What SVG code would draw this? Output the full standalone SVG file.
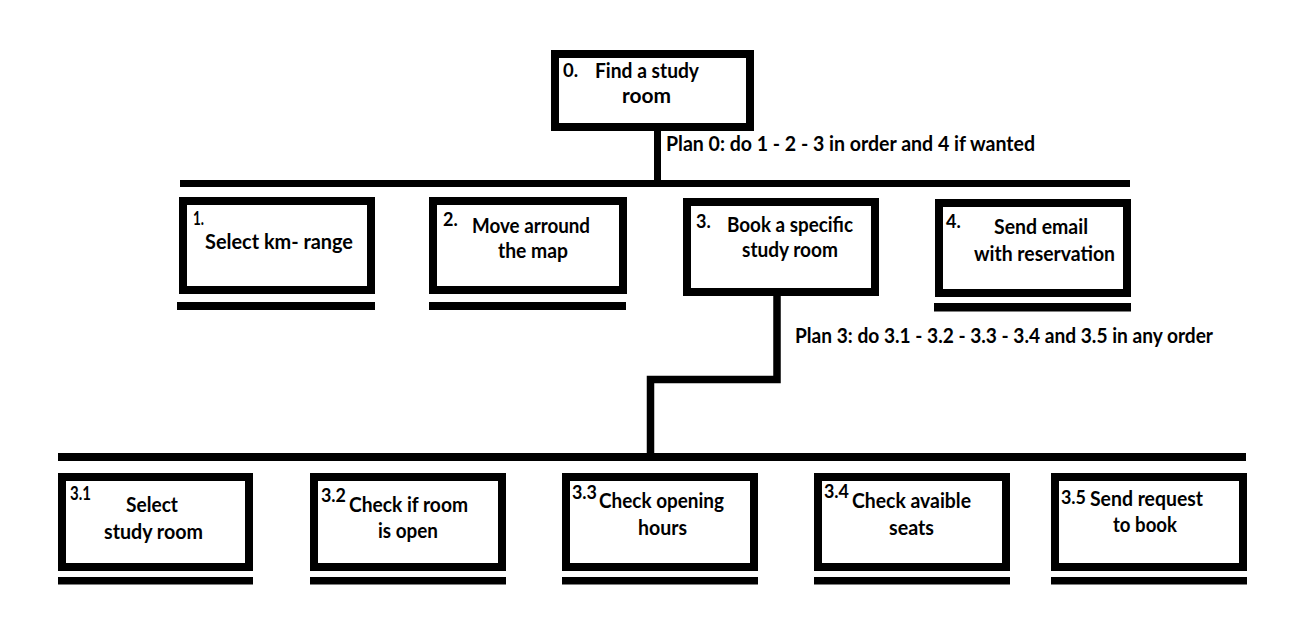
<svg xmlns="http://www.w3.org/2000/svg" width="1291" height="619" viewBox="0 0 1291 619">
<style>
.box{fill:#fff;stroke:#000;stroke-width:8}
.bar{fill:#000}
.conn{fill:none;stroke:#000;stroke-width:7.5;stroke-linejoin:miter}
.t{font-family:Lato,"Liberation Sans",sans-serif;font-weight:bold;font-size:20.5px;fill:#000}
.n{font-family:Lato,"Liberation Sans",sans-serif;font-weight:bold;font-size:18px;fill:#000}
.n2{font-family:Lato,"Liberation Sans",sans-serif;font-weight:bold;font-size:18.5px;fill:#000}
</style>
<rect width="1291" height="619" fill="#fff"/>
<g id="connectors">
<rect class="bar" x="654" y="131" width="7" height="49"/>
<rect class="bar" x="180" y="180" width="950" height="7"/>
<path class="conn" d="M777 296 V379.5 H650.5 V453"/>
<rect class="bar" x="58" y="453" width="1188" height="8"/>
<text class="t" x="666" y="151" textLength="369" lengthAdjust="spacingAndGlyphs">Plan 0: do 1 - 2 - 3 in order and 4 if wanted</text>
<text class="t" x="795" y="343" textLength="418" lengthAdjust="spacingAndGlyphs">Plan 3: do 3.1  - 3.2 - 3.3 - 3.4 and 3.5 in any order</text>
</g>
<g id="node0">
<rect class="box" x="555" y="54" width="195" height="73"/>
<text class="n2" x="563" y="77">0.</text>
<text class="t" x="595" y="78" textLength="104" lengthAdjust="spacingAndGlyphs">Find a study</text>
<text class="t" x="622" y="103" textLength="49" lengthAdjust="spacingAndGlyphs">room</text>
</g>
<g id="node1">
<rect class="box" x="183" y="201" width="188" height="89"/>
<rect class="bar" x="177" y="302" width="198" height="8"/>
<text class="n" x="193" y="225" textLength="11" lengthAdjust="spacingAndGlyphs">1.</text>
<text class="t" x="205" y="249" textLength="148" lengthAdjust="spacingAndGlyphs">Select km- range</text>
</g>
<g id="node2">
<rect class="box" x="433" y="201" width="190" height="89"/>
<rect class="bar" x="429" y="302" width="197" height="8"/>
<text class="n" x="443" y="226">2.</text>
<text class="t" x="472" y="233" textLength="118" lengthAdjust="spacingAndGlyphs">Move arround</text>
<text class="t" x="498" y="258" textLength="70" lengthAdjust="spacingAndGlyphs">the map</text>
</g>
<g id="node3">
<rect class="box" x="687" y="202" width="188" height="90"/>
<text class="n" x="696" y="228">3.</text>
<text class="t" x="727" y="232" textLength="126" lengthAdjust="spacingAndGlyphs">Book a specific</text>
<text class="t" x="742" y="257" textLength="96" lengthAdjust="spacingAndGlyphs">study room</text>
</g>
<g id="node4">
<rect class="box" x="939" y="203" width="188" height="90"/>
<rect class="bar" x="934" y="303" width="197" height="8.5"/>
<text class="n" x="946" y="228">4.</text>
<text class="t" x="994" y="234" textLength="94" lengthAdjust="spacingAndGlyphs">Send email</text>
<text class="t" x="974" y="261" textLength="141" lengthAdjust="spacingAndGlyphs">with reservation</text>
</g>
<g id="node3_1">
<rect class="box" x="62" y="477" width="187" height="90"/>
<rect class="bar" x="58" y="577" width="195" height="7.5"/>
<text class="n2" x="70" y="500" textLength="21" lengthAdjust="spacingAndGlyphs">3.1</text>
<text class="t" x="126" y="512" textLength="52" lengthAdjust="spacingAndGlyphs">Select</text>
<text class="t" x="104" y="539" textLength="99" lengthAdjust="spacingAndGlyphs">study room</text>
</g>
<g id="node3_2">
<rect class="box" x="314" y="477" width="188" height="90"/>
<rect class="bar" x="310" y="577" width="196" height="7.5"/>
<text class="n2" x="321" y="502" textLength="25" lengthAdjust="spacingAndGlyphs">3.2</text>
<text class="t" x="349" y="512" textLength="119" lengthAdjust="spacingAndGlyphs">Check if room</text>
<text class="t" x="378" y="538" textLength="60" lengthAdjust="spacingAndGlyphs">is open</text>
</g>
<g id="node3_3">
<rect class="box" x="566" y="477" width="188" height="90"/>
<rect class="bar" x="562" y="577" width="196" height="7.5"/>
<text class="n2" x="572" y="499" textLength="25" lengthAdjust="spacingAndGlyphs">3.3</text>
<text class="t" x="599" y="508" textLength="125" lengthAdjust="spacingAndGlyphs">Check opening</text>
<text class="t" x="638" y="535" textLength="49" lengthAdjust="spacingAndGlyphs">hours</text>
</g>
<g id="node3_4">
<rect class="box" x="818" y="477" width="188" height="90"/>
<rect class="bar" x="814" y="577" width="196" height="7.5"/>
<text class="n2" x="824" y="498" textLength="25" lengthAdjust="spacingAndGlyphs">3.4</text>
<text class="t" x="852" y="508" textLength="119" lengthAdjust="spacingAndGlyphs">Check avaible</text>
<text class="t" x="889" y="535" textLength="45" lengthAdjust="spacingAndGlyphs">seats</text>
</g>
<g id="node3_5">
<rect class="box" x="1055" y="477" width="188" height="90"/>
<rect class="bar" x="1051" y="577" width="196" height="7.5"/>
<text class="n2" x="1061" y="504" textLength="25" lengthAdjust="spacingAndGlyphs">3.5</text>
<text class="t" x="1090" y="506" textLength="113" lengthAdjust="spacingAndGlyphs">Send request</text>
<text class="t" x="1113" y="532" textLength="64" lengthAdjust="spacingAndGlyphs">to book</text>
</g>
</svg>
